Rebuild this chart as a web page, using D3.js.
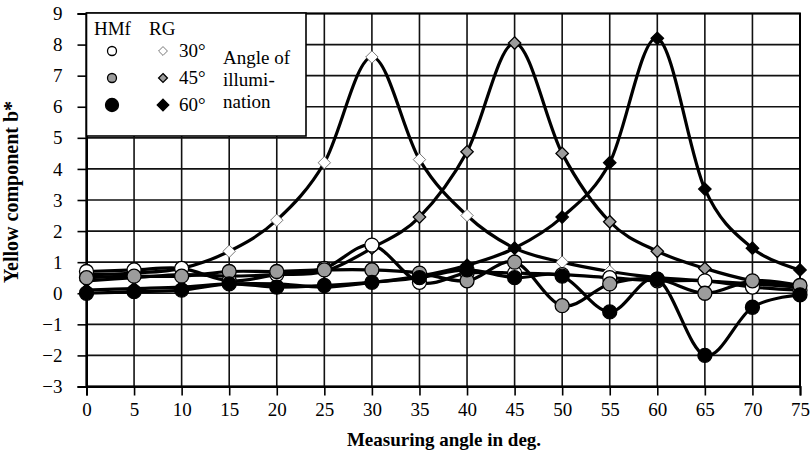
<!DOCTYPE html>
<html>
<head>
<meta charset="utf-8">
<script src="https://cdn.jsdelivr.net/npm/d3@7"></script>
<style>
  body { margin: 0; background: #fff; }
  svg { display: block; }
  svg text { font-family: "Liberation Serif", "Times New Roman", serif; fill: #000; }
</style>
</head>
<body>
<script>
'use strict'

var angles = [0, 5, 10, 15, 20, 25, 30, 35, 40, 45, 50, 55, 60, 65, 70, 75]
var yTicks = [-3, -2, -1, 0, 1, 2, 3, 4, 5, 6, 7, 8, 9]

// HMf = circles, RG = diamonds; angle of illumination 30/45/60
var hmf30 = [0.7, 0.75, 0.8, 0.4, 0.6, 0.8, 1.55, 0.35, 0.65, 0.65, 0.6, 0.5, 0.4, 0.4, 0.2, 0.1]
var hmf45 = [0.5, 0.55, 0.55, 0.7, 0.7, 0.75, 0.75, 0.65, 0.4, 1.0, -0.4, 0.3, 0.45, 0.0, 0.4, 0.25]
var hmf60 = [0.0, 0.05, 0.1, 0.3, 0.2, 0.25, 0.35, 0.5, 0.75, 0.5, 0.55, -0.6, 0.45, -2.0, -0.45, -0.05]
var rg30  = [0.6, 0.65, 0.8, 1.35, 2.35, 4.2, 7.6, 4.3, 2.5, 1.45, 1.0, 0.7, 0.5, 0.4, 0.3, 0.2]
var rg45  = [0.4, 0.5, 0.6, 0.55, 0.6, 0.7, 1.45, 2.45, 4.55, 8.05, 4.5, 2.3, 1.35, 0.8, 0.4, 0.2]
var rg60  = [0.1, 0.15, 0.2, 0.3, 0.3, 0.2, 0.35, 0.55, 0.9, 1.45, 2.45, 4.2, 8.2, 3.35, 1.45, 0.75]

var legendAngles = ['30°', '45°', '60°']

var series = [
  { values: rg30,  shape: 'diamond', fill: '#fff' },
  { values: rg45,  shape: 'diamond', fill: '#9c9c9c' },
  { values: rg60,  shape: 'diamond', fill: '#000' },
  { values: hmf30, shape: 'circle',  fill: '#fff' },
  { values: hmf45, shape: 'circle',  fill: '#9c9c9c' },
  { values: hmf60, shape: 'circle',  fill: '#000' }
]

var width = 812, height = 464
var plot = { left: 86.5, right: 800, top: 13.5, bottom: 386.5 }

var svg = d3.select('body').append('svg')
  .attr('width', width)
  .attr('height', height)

var x = d3.scaleLinear().domain([0, 75]).range([plot.left, plot.right])
var y = d3.scaleLinear().domain([-3, 9]).range([plot.bottom, plot.top])

// grid
var grid = svg.append('g').attr('stroke', '#111').attr('stroke-width', 1.6)
grid.selectAll('.vg').data(angles).enter().append('line')
  .attr('x1', function (d) { return x(d) }).attr('x2', function (d) { return x(d) })
  .attr('y1', plot.top).attr('y2', plot.bottom)
grid.selectAll('.hg').data(yTicks).enter().append('line')
  .attr('y1', function (d) { return y(d) }).attr('y2', function (d) { return y(d) })
  .attr('x1', plot.left).attr('x2', plot.right)

// axes
var xAxis = svg.append('g')
  .attr('transform', 'translate(0,' + plot.bottom + ')')
  .call(d3.axisBottom(x).tickValues(angles).tickSize(9).tickPadding(7))
var yAxis = svg.append('g')
  .attr('transform', 'translate(' + plot.left + ',0)')
  .call(d3.axisLeft(y).tickValues(yTicks).tickSize(9).tickPadding(15))

;[xAxis, yAxis].forEach(function (ax) {
  ax.attr('font-family', null).attr('font-size', 19)
  ax.select('.domain').attr('stroke', '#000').attr('stroke-width', 2)
  ax.selectAll('.tick line').attr('stroke', '#000').attr('stroke-width', 1.6)
})

svg.append('rect')
  .attr('x', plot.left).attr('y', plot.top)
  .attr('width', plot.right - plot.left).attr('height', plot.bottom - plot.top)
  .attr('fill', 'none').attr('stroke', '#000').attr('stroke-width', 2)

// lines
var line = d3.line()
  .x(function (d, i) { return x(angles[i]) })
  .y(function (d) { return y(d) })
  .curve(d3.curveCardinal.tension(0))

svg.append('g').selectAll('path').data(series).enter().append('path')
  .attr('d', function (s) { return line(s.values) })
  .attr('fill', 'none')
  .attr('stroke', '#000')
  .attr('stroke-width', 3.2)

var diamond = d3.symbol().type(d3.symbolDiamond2)

function drawMarker (sel, shape, fill, size) {
  if (shape === 'circle') {
    sel.append('circle').attr('r', size)
      .attr('fill', fill).attr('stroke', '#000').attr('stroke-width', 1.3)
  } else {
    sel.append('path').attr('d', diamond.size(size * size * 2)())
      .attr('fill', fill).attr('stroke', fill === '#fff' ? '#555' : '#000')
      .attr('stroke-width', fill === '#fff' ? 0.8 : 1.3)
  }
}

series.forEach(function (s) {
  var g = svg.append('g')
  s.values.forEach(function (v, i) {
    var m = g.append('g').attr('transform', 'translate(' + x(angles[i]) + ',' + y(v) + ')')
    drawMarker(m, s.shape, s.fill, 7)
  })
})

// legend
var legend = svg.append('g')
legend.append('rect')
  .attr('x', 86.5).attr('y', 13).attr('width', 219.5).attr('height', 123)
  .attr('fill', '#fff').attr('stroke', '#000').attr('stroke-width', 1.6)

legend.append('text').attr('x', 94).attr('y', 35).attr('font-size', 19).text('HMf')
legend.append('text').attr('x', 149).attr('y', 35).attr('font-size', 19).text('RG')

var rows = [51, 78, 105]
var fills = ['#fff', '#9c9c9c', '#000']
rows.forEach(function (ry, i) {
  var c = legend.append('g').attr('transform', 'translate(112,' + ry + ')')
  drawMarker(c, 'circle', fills[i], i === 2 ? 6.5 : 4.5)
  var dm = legend.append('g').attr('transform', 'translate(163,' + ry + ')')
  drawMarker(dm, 'diamond', fills[i], i === 2 ? 6.5 : 5)
  legend.append('text').attr('x', 179).attr('y', ry + 6).attr('font-size', 19).text(legendAngles[i])
})
legend.append('text').attr('x', 223).attr('y', 64).attr('font-size', 19).text('Angle of')
legend.append('text').attr('x', 223).attr('y', 86).attr('font-size', 19).text('illumi-')
legend.append('text').attr('x', 223).attr('y', 108).attr('font-size', 19).text('nation')

// axis titles
svg.append('text')
  .attr('transform', 'translate(18,192) rotate(-90)')
  .attr('text-anchor', 'middle')
  .attr('font-weight', 'bold')
  .attr('font-size', 20)
  .text('Yellow component b*')

svg.append('text')
  .attr('x', 444).attr('y', 446)
  .attr('text-anchor', 'middle')
  .attr('font-weight', 'bold')
  .attr('font-size', 19)
  .text('Measuring angle in deg.')
</script>
</body>
</html>
